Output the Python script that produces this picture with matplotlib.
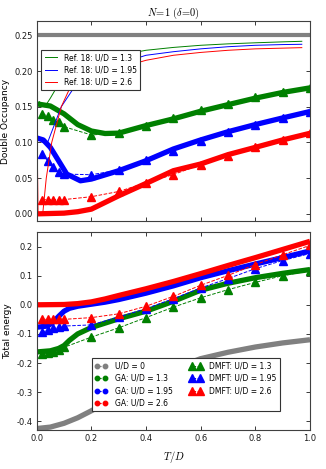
import matplotlib
matplotlib.use("Agg")
import matplotlib.pyplot as plt
from matplotlib.lines import Line2D

plt.rcParams['mathtext.fontset'] = 'cm'
plt.rcParams['font.family'] = ['DejaVu Sans']

# ---------------- data: top panel (double occupancy) ----------------
ga0_x = [0.0, 1.0]
ga0_d = [0.25, 0.25]

ga13_x = [0.0, 0.05, 0.1, 0.15, 0.2, 0.25, 0.3, 0.4, 0.5, 0.6, 0.7, 0.8, 0.9, 1.0]
ga13_d = [0.154, 0.151, 0.140, 0.125, 0.116, 0.1125, 0.113, 0.1236, 0.133, 0.1437, 0.1529, 0.162, 0.170, 0.1764]

ga195_x = [0.0, 0.024, 0.05, 0.08, 0.11, 0.16, 0.2, 0.3, 0.4, 0.5, 0.6, 0.7, 0.8, 0.9, 1.0]
ga195_d = [0.1063, 0.1035, 0.093, 0.0744, 0.0557, 0.0463, 0.0487, 0.0604, 0.0744, 0.0908, 0.1035, 0.115, 0.125, 0.1343, 0.1433]

ga26_x = [0.0, 0.1, 0.15, 0.2, 0.3, 0.4, 0.5, 0.6, 0.7, 0.8, 0.9, 1.0]
ga26_d = [0.0, 0.001, 0.003, 0.0066, 0.0253, 0.0426, 0.0604, 0.0698, 0.0829, 0.0931, 0.1035, 0.1128]

dmft_x = [0.02, 0.04, 0.06, 0.08, 0.1, 0.2, 0.3, 0.4, 0.5, 0.6, 0.7, 0.8, 0.9, 1.0]
dmft13_d = [0.140, 0.137, 0.132, 0.128, 0.122, 0.1105, 0.113, 0.123, 0.134, 0.145, 0.154, 0.163, 0.170, 0.176]
dmft195_d = [0.0838, 0.0744, 0.065, 0.058, 0.0557, 0.0548, 0.0613, 0.0754, 0.0885, 0.1025, 0.114, 0.125, 0.134, 0.143]
dmft26_d = [0.02, 0.02, 0.02, 0.02, 0.02, 0.024, 0.0313, 0.0435, 0.055, 0.069, 0.0815, 0.093, 0.1035, 0.113]

ref13_x = [0.01, 0.03, 0.05, 0.07, 0.1, 0.15, 0.2, 0.3, 0.4, 0.5, 0.6, 0.7, 0.8, 0.9, 0.97]
ref13_d = [0.157, 0.150, 0.162, 0.175, 0.186, 0.201, 0.211, 0.222, 0.229, 0.233, 0.236, 0.238, 0.2395, 0.2408, 0.2416]

ref195_x = [0.02, 0.04, 0.06, 0.09, 0.13, 0.2, 0.3, 0.4, 0.5, 0.6, 0.7, 0.8, 0.9, 0.97]
ref195_d = [0.100, 0.100, 0.120, 0.150, 0.173, 0.195, 0.21, 0.222, 0.227, 0.231, 0.234, 0.236, 0.237, 0.2374]

ref26_x = [0.002, 0.003, 0.005, 0.022, 0.035, 0.055, 0.09, 0.12, 0.2, 0.3, 0.4, 0.5, 0.6, 0.7, 0.8, 0.9, 0.97]
ref26_d = [0.0, 0.062, 0.0, 0.0, 0.05, 0.10, 0.15, 0.175, 0.19, 0.204, 0.215, 0.222, 0.226, 0.229, 0.231, 0.232, 0.2327]

# ---------------- data: bottom panel (total energy) ----------------
ga0e_x = [0.0, 0.05, 0.1, 0.15, 0.2, 0.25, 0.3, 0.4, 0.5, 0.6, 0.7, 0.8, 0.9, 1.0]
ga0_e = [-0.425, -0.42, -0.407, -0.388, -0.364, -0.338, -0.312, -0.262, -0.22, -0.185, -0.163, -0.145, -0.131, -0.12]

ga13e_x = [0.0, 0.05, 0.08, 0.1, 0.12, 0.15, 0.2, 0.3, 0.4, 0.5, 0.6, 0.7, 0.8, 0.9, 1.0]
ga13_e = [-0.162, -0.158, -0.15, -0.14, -0.122, -0.1, -0.078, -0.048, -0.022, 0.012, 0.05, 0.074, 0.093, 0.108, 0.121]

ga195e_x = [0.0, 0.04, 0.06, 0.08, 0.1, 0.12, 0.15, 0.2, 0.25, 0.3, 0.4, 0.5, 0.6, 0.7, 0.8, 0.9, 1.0]
ga195_e = [-0.077, -0.073, -0.06, -0.04, -0.022, -0.012, -0.005, 0.002, 0.009, 0.018, 0.04, 0.065, 0.093, 0.117, 0.14, 0.162, 0.185]

ga26e_x = [0.0, 0.1, 0.15, 0.2, 0.25, 0.3, 0.4, 0.5, 0.6, 0.7, 0.8, 0.9, 1.0]
ga26_e = [0.0, 0.001, 0.004, 0.01, 0.02, 0.032, 0.055, 0.08, 0.107, 0.135, 0.162, 0.19, 0.218]

dmft13_e = [-0.169, -0.166, -0.161, -0.154, -0.146, -0.111, -0.079, -0.044, -0.008, 0.024, 0.052, 0.077, 0.100, 0.117]
dmft195_e = [-0.094, -0.087, -0.081, -0.077, -0.073, -0.069, -0.042, -0.013, 0.021, 0.058, 0.09, 0.124, 0.152, 0.176]
dmft26_e = [-0.05, -0.05, -0.05, -0.05, -0.05, -0.044, -0.031, -0.005, 0.029, 0.067, 0.101, 0.138, 0.172, 0.204]

xticks = [0.0, 0.2, 0.4, 0.6, 0.8, 1.0]
yticks_top = [0.00, 0.05, 0.10, 0.15, 0.20, 0.25]
yticks_bot = [-0.4, -0.3, -0.2, -0.1, 0.0, 0.1, 0.2]

GREEN = (0.0, 0.5, 0.0)
BLUE = (0.0, 0.0, 1.0)
RED = (1.0, 0.0, 0.0)
GREY = (0.5, 0.5, 0.5)

THICK = 3.8
MS = 5.6
LEGFS = 5.5

W, H = 326, 469
fig = plt.figure(figsize=(W / 100, H / 100), dpi=100)
ax1 = fig.add_axes([36.7 / W, 1 - 221 / H, 273.3 / W, (221 - 21) / H])
ax2 = fig.add_axes([36.7 / W, 1 - 430 / H, 273.3 / W, (430 - 232) / H])

# ---------------- top ----------------
ax1.plot(ga0_x, ga0_d, '-', color=GREY, lw=3.0, solid_capstyle='butt')
ax1.plot(ga13_x, ga13_d, '-', color=GREEN, lw=THICK, solid_capstyle='butt')
ax1.plot(ga195_x, ga195_d, '-', color=BLUE, lw=THICK, solid_capstyle='butt')
ax1.plot(ga26_x, ga26_d, '-', color=RED, lw=THICK, solid_capstyle='butt')
ax1.plot(dmft_x, dmft13_d, '^--', color=GREEN, mec=GREEN, ms=MS, lw=0.7)
ax1.plot(dmft_x, dmft195_d, '^--', color=BLUE, mec=BLUE, ms=MS, lw=0.7)
ax1.plot(dmft_x, dmft26_d, '^--', color=RED, mec=RED, ms=MS, lw=0.7)
r1, = ax1.plot(ref13_x, ref13_d, '-', color=GREEN, lw=0.7, label='Ref. 18: U/D = 1.3')
r2, = ax1.plot(ref195_x, ref195_d, '-', color=BLUE, lw=0.7, label='Ref. 18: U/D = 1.95')
r3, = ax1.plot(ref26_x, ref26_d, '-', color=RED, lw=0.7, label='Ref. 18: U/D = 2.6')

ax1.set_xlim(0, 1)
ax1.set_ylim(-0.01, 0.27)
ax1.set_xticks(xticks)
ax1.set_xticklabels([])
ax1.set_yticks(yticks_top)
ax1.set_yticklabels(['%.2f' % v for v in yticks_top])
ax1.set_ylabel('Double Occupancy', fontsize=6.5, labelpad=3)
ax1.set_title(r'$N\!=\!1\ (\delta\!=\!0)$', fontsize=7.5, pad=3)
leg1 = ax1.legend(handles=[r1, r2, r3], loc='upper left', bbox_to_anchor=(0.017, 0.857),
                  borderaxespad=0, fontsize=LEGFS, frameon=True, fancybox=False,
                  handlelength=1.6, labelspacing=0.45, borderpad=0.45, handletextpad=0.9)
leg1.get_frame().set_edgecolor('0.2')
leg1.get_frame().set_linewidth(0.8)
leg1.get_frame().set_alpha(1)

# ---------------- bottom ----------------
ax2.plot(ga0e_x, ga0_e, '-', color=GREY, lw=THICK, solid_capstyle='butt')
ax2.plot(ga13e_x, ga13_e, '-', color=GREEN, lw=THICK, solid_capstyle='butt')
ax2.plot(ga195e_x, ga195_e, '-', color=BLUE, lw=THICK, solid_capstyle='butt')
ax2.plot(ga26e_x, ga26_e, '-', color=RED, lw=THICK, solid_capstyle='butt')
d1, = ax2.plot(dmft_x, dmft13_e, '^--', color=GREEN, mec=GREEN, ms=MS, lw=0.7, label='DMFT: U/D = 1.3')
d2, = ax2.plot(dmft_x, dmft195_e, '^--', color=BLUE, mec=BLUE, ms=MS, lw=0.7, label='DMFT: U/D = 1.95')
d3, = ax2.plot(dmft_x, dmft26_e, '^--', color=RED, mec=RED, ms=MS, lw=0.7, label='DMFT: U/D = 2.6')

def ga_handle(c, lab):
    return Line2D([], [], color=c, marker='o', ms=3.2, mec=c, ls='--', lw=0.8, label=lab)

handles = [ga_handle(GREY, 'U/D = 0'), ga_handle(GREEN, 'GA: U/D = 1.3'),
           ga_handle(BLUE, 'GA: U/D = 1.95'), ga_handle(RED, 'GA: U/D = 2.6'),
           d1, d2, d3]

ax2.set_xlim(0, 1)
ax2.set_ylim(-0.43, 0.25)
ax2.set_xticks(xticks)
ax2.set_xticklabels(['%.1f' % v for v in xticks])
ax2.set_yticks(yticks_bot)
ax2.set_yticklabels(['%.1f' % v for v in yticks_bot])
ax2.set_ylabel('Total energy', fontsize=6.5, labelpad=3)
ax2.set_xlabel(r'$T/D$', fontsize=7.5, labelpad=4)
leg2 = ax2.legend(handles=handles, ncol=2, loc='upper left', bbox_to_anchor=(0.201, 0.362),
                  borderaxespad=0, fontsize=LEGFS, frameon=True, fancybox=False, numpoints=2,
                  handlelength=1.6, labelspacing=0.42, borderpad=0.45, handletextpad=1.0,
                  columnspacing=2.2)
leg2.get_frame().set_edgecolor('0.2')
leg2.get_frame().set_linewidth(0.8)
leg2.get_frame().set_alpha(1)

for ax in (ax1, ax2):
    ax.tick_params(direction='in', top=True, right=True, length=3, width=0.6,
                   labelsize=6, pad=3, colors='0.1')
    for s in ax.spines.values():
        s.set_linewidth(0.8)
        s.set_color('0.25')

fig.savefig('out.png', dpi=100)
